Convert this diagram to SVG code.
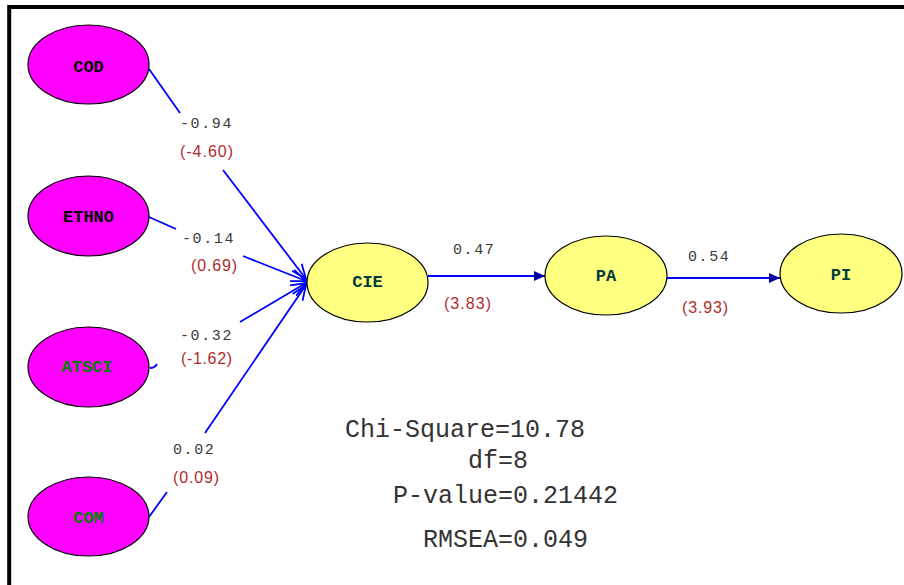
<svg xmlns="http://www.w3.org/2000/svg" width="904" height="585" viewBox="0 0 904 585">
<defs>
<style>
.ex{fill:#ff00ff;stroke:#000;stroke-width:1.2}
.en{fill:#ffff80;stroke:#000;stroke-width:1.2}
.nl{font-family:"Liberation Mono",monospace;font-weight:bold;font-size:17px;text-anchor:middle}
.coef{font-family:"Liberation Mono",monospace;font-size:15px;fill:#3a3a3a;letter-spacing:1.6px}
.tv{font-family:"Liberation Sans",Arial,sans-serif;font-size:16px;fill:#b02c2c}
.st{font-family:"Liberation Mono",monospace;font-size:25px;fill:#333}
.ln{stroke:#0000ff;stroke-width:1.8;fill:none}
</style>
<marker id="vopen" markerWidth="16" markerHeight="14" refX="15" refY="7" orient="auto" markerUnits="userSpaceOnUse">
<path d="M0,1 L15,7 L0,13" fill="none" stroke="#0000ff" stroke-width="1.8"/>
</marker>
<marker id="tri" markerWidth="12" markerHeight="12" refX="11" refY="6" orient="auto" markerUnits="userSpaceOnUse">
<path d="M0,1 L11,6 L0,11 Z" fill="#0000a0"/>
</marker>
</defs>
<rect width="904" height="585" fill="#fff"/>
<path d="M9.2,585 V7 H904" fill="none" stroke="#000" stroke-width="4"/>

<g id="connectors">
<path class="ln" d="M149,69 L180,113"/>
<path class="ln" d="M223,170 L306,279" marker-end="url(#vopen)"/>
<path class="ln" d="M149,217 L176,229"/>
<path class="ln" d="M243,256 L306,281" marker-end="url(#vopen)"/>
<path class="ln" d="M150,368 Q155,368 157,364"/>
<path class="ln" d="M240,322 L306,283" marker-end="url(#vopen)"/>
<path class="ln" d="M149,517 L167,492"/>
<path class="ln" d="M205,433 L306,285" marker-end="url(#vopen)"/>
<path class="ln" d="M428,276 L545,276" marker-end="url(#tri)"/>
<path class="ln" d="M667,278 L780,278" marker-end="url(#tri)"/>
<text class="coef" x="180" y="128">-0.94</text>
<text class="tv" x="180" y="157" textLength="53" lengthAdjust="spacing">(-4.60)</text>
<text class="coef" x="182" y="243">-0.14</text>
<text class="tv" x="191" y="271" textLength="46" lengthAdjust="spacing">(0.69)</text>
<text class="coef" x="180" y="340">-0.32</text>
<text class="tv" x="181" y="364" textLength="51" lengthAdjust="spacing">(-1.62)</text>
<text class="coef" x="173" y="454">0.02</text>
<text class="tv" x="173" y="483" textLength="46" lengthAdjust="spacing">(0.09)</text>
<text class="coef" x="453" y="254">0.47</text>
<text class="tv" x="444" y="309" textLength="47" lengthAdjust="spacing">(3.83)</text>
<text class="coef" x="688" y="261">0.54</text>
<text class="tv" x="682" y="313" textLength="46" lengthAdjust="spacing">(3.93)</text>
</g>

<g id="COD"><ellipse class="ex" cx="88.5" cy="64.5" rx="60.5" ry="39.5"/><text class="nl" x="88.5" y="72" fill="#000">COD</text></g>
<g id="ETHNO"><ellipse class="ex" cx="88.5" cy="216" rx="60.5" ry="40"/><text class="nl" x="88.5" y="222" fill="#000">ETHNO</text></g>
<g id="ATSCI"><ellipse class="ex" cx="88.5" cy="367" rx="60.5" ry="40"/><text class="nl" x="87" y="372" fill="#008000">ATSCI</text></g>
<g id="COM"><ellipse class="ex" cx="88.5" cy="516.5" rx="60.5" ry="39.5"/><text class="nl" x="88.5" y="523" fill="#008000">COM</text></g>
<g id="CIE"><ellipse class="en" cx="367.5" cy="282.5" rx="60.5" ry="39.5"/><text class="nl" x="367.5" y="287" fill="#003c3c">CIE</text></g>
<g id="PA"><ellipse class="en" cx="606" cy="275.5" rx="61" ry="39.5"/><text class="nl" x="606" y="281" fill="#003c3c">PA</text></g>
<g id="PI"><ellipse class="en" cx="841" cy="273.5" rx="61" ry="39.5"/><text class="nl" x="841" y="280" fill="#003c3c">PI</text></g>

<g id="stats">
<text class="st" x="345" y="437">Chi-Square=10.78</text>
<text class="st" x="468" y="468">df=8</text>
<text class="st" x="393" y="503">P-value=0.21442</text>
<text class="st" x="423" y="547">RMSEA=0.049</text>
</g>
</svg>
